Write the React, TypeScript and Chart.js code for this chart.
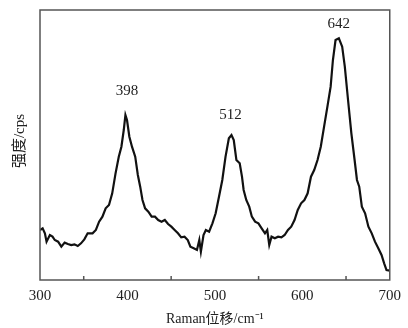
import React, { useEffect, useRef } from "react";
import { Chart, registerables } from "chart.js";
Chart.register(...registerables);

const ramanShift = [300,303,305.6,307.5,311.3,314.3,316.9,320.7,324.4,328.2,331.9,335.7,339.4,343.2,346.9,350.7,354.5,360.1,363.9,367.6,371.4,375.1,378.9,382.6,386.4,390.1,393.1,395.8,397.7,399.5,402.2,405.2,408.9,411.9,414.6,417.2,420.2,423.9,427.7,431.5,435.2,439,442.7,446.5,450.2,454,457.8,461.5,465.3,469,472,475.8,479.5,482.2,484,487,489.7,493.4,497.2,500.9,504.7,508.5,512.2,516,519,521.6,524.6,528.4,531,532.9,535.9,539.3,542.3,546,549.8,553.5,557.3,559.9,562.2,564.8,568.6,572.3,576.1,579.8,583.6,587.3,591.1,594.8,598.6,602.4,606.1,609.9,613.6,617.4,621.1,624.9,628.7,632.4,635,638,641.8,645.6,648.6,652.3,656.1,659.8,662.5,665.1,668.1,671.8,675.6,679.4,683.1,686.9,690.6,693.6,696.3,700];
const intensity = [150,155,140,115,135,130,120,115,100,112,108,105,107,102,110,122,140,140,150,175,190,215,225,260,320,370,400,450,495,480,430,400,370,315,280,240,215,205,190,190,180,175,180,168,160,150,140,128,130,120,100,95,90,120,85,135,150,145,170,200,250,300,370,425,435,420,360,350,310,270,240,220,190,175,170,155,140,150,105,130,125,130,128,135,150,160,180,210,230,240,260,310,330,360,400,460,520,580,660,720,725,700,640,540,440,360,300,280,220,200,160,140,115,95,75,50,30,28];
const xTicks = [300, 400, 500, 600, 700];
const minorTicks = [350, 450, 550, 650];
const peakLabels = ["398", "512", "642"];
const peakLabelX = [399.5, 517.8, 641.8];
const peakLabelY = [568, 495, 768];
const yTitle = "强度/cps";

const FONT = "'Liberation Serif', 'Noto Sans CJK SC', serif";

export default function App() {
  const ref = useRef<HTMLCanvasElement | null>(null);
  useEffect(() => {
    if (!ref.current) return;
    const framePlugin = {
      id: "frame",
      afterDatasetsDraw(chart: any) {
        const { ctx, chartArea: a, scales } = chart;
        ctx.save();
        ctx.strokeStyle = "#555";
        ctx.lineWidth = 1.5;
        ctx.strokeRect(a.left, a.top, a.right - a.left, a.bottom - a.top);
        ctx.beginPath();
        for (const t of minorTicks) {
          const x = scales.x.getPixelForValue(t);
          ctx.moveTo(x, a.bottom);
          ctx.lineTo(x, a.bottom - 4);
        }
        ctx.stroke();
        ctx.fillStyle = "#222";
        ctx.font = "15px " + FONT;
        ctx.textAlign = "center";
        ctx.textBaseline = "middle";
        peakLabels.forEach((l, i) => {
          ctx.fillText(l, scales.x.getPixelForValue(peakLabelX[i]), scales.y.getPixelForValue(peakLabelY[i]));
        });
        ctx.translate(20, (a.top + a.bottom) / 2 - 4);
        ctx.rotate(-Math.PI / 2);
        ctx.font = "15px " + FONT;
        ctx.fillText(yTitle, 0, 0);
        ctx.restore();
      },
    };
    const chart = new Chart(ref.current, {
      type: "line",
      data: {
        datasets: [
          {
            data: ramanShift.map((x, i) => ({ x, y: intensity[i] })),
            borderColor: "#111",
            borderWidth: 2.2,
            pointRadius: 0,
            tension: 0,
            fill: false,
          },
        ],
      },
      options: {
        responsive: false,
        animation: false,
        layout: { padding: { top: 10, right: 13, left: 0, bottom: 0 } },
        plugins: { legend: { display: false }, tooltip: { enabled: false } },
        scales: {
          x: {
            type: "linear",
            min: 300,
            max: 700,
            afterBuildTicks: (s: any) => { s.ticks = xTicks.map((v) => ({ value: v })); },
            grid: { display: false, drawTicks: false },
            border: { display: false },
            ticks: { color: "#222", font: { family: FONT, size: 15 }, padding: 7, maxRotation: 0 },
            title: { display: true, text: "Raman位移/cm⁻¹", color: "#222", font: { family: FONT, size: 14 }, padding: { top: 0, bottom: 0 } },
            afterFit: (s: any) => { s.height = 48; },
          },
          y: {
            min: 0,
            max: 810,
            grid: { display: false, drawTicks: false },
            border: { display: false },
            ticks: { display: false },
            title: { display: false },
            afterFit: (s: any) => { s.width = 40; },
          },
        },
      },
      plugins: [framePlugin],
    } as any);
    return () => chart.destroy();
  }, []);
  return (
    <div style={{ position: "fixed", left: 0, top: 0, width: 408, height: 328, background: "#fff" }}>
      <canvas ref={ref} width={408} height={328} style={{ width: 408, height: 328 }} />
    </div>
  );
}
